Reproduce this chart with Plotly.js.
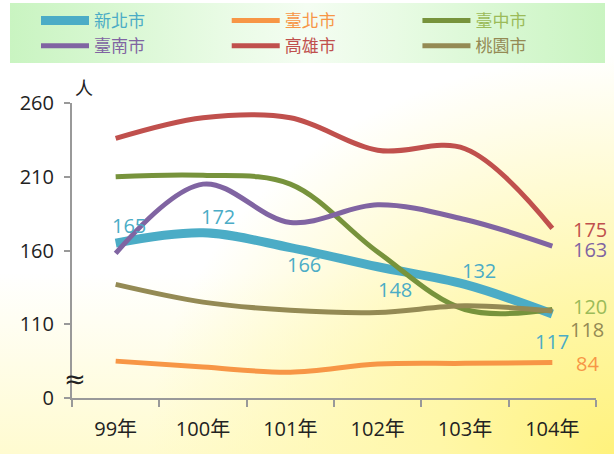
<!DOCTYPE html>
<html><head><meta charset="utf-8">
<script src="https://cdn.plot.ly/plotly-3.0.1.min.js"></script>
<style>
html,body{margin:0;padding:0;}
body{width:614px;height:454px;overflow:hidden;position:relative;
background:
 radial-gradient(ellipse 95% 110% at 100% 100%, #fff27c 0%, #fff7a8 30%, rgba(255,255,255,0) 80%),
 linear-gradient(to bottom, #ffffff 0%, #ffffff 60%, #fffbd0 100%);}
#lg{position:absolute;left:10px;top:3px;width:595px;height:60px;
background:linear-gradient(to right,#c9f4c1 0%,#e8fbe4 35%,#f4fdf2 50%,#e8fbe4 65%,#c9f4c1 100%);}
#chart{position:absolute;left:0;top:-9px;width:614px;height:463px;}
</style></head>
<body><div id="lg"></div><div id="chart"></div>
<script>
var years = ['99年','100年','101年','102年','103年','104年'];
var names = ['新北市','臺北市','臺中市','臺南市','高雄市','桃園市'];
var ntp = [165,172,162,149,137,117];
var tpe = [85,81,77.5,83,83.5,84];
var txg = [210,211,205,159,120,120];
var tnn = [158,205,179,191,181,163];
var khh = [236,250,250,228,229,175];
var tyn = [137,125,119.5,118,122.5,119];
var seriesVals = [ntp,tpe,txg,tnn,khh,tyn];
var lineColors = ['#4bacc6','#f79646','#77933c','#8064a2','#c0504d','#948a54'];
var textColors = ['#4bacc6','#f79646','#9bbb59','#8064a2','#c0504d','#948a54'];
var lineWidths = [9,5,5,5,5,5];
// y axis: broken axis, bottom tick labelled 0
var yTickVals = [60,110,160,210,260];
var yTickText = ['0','110','160','210','260'];
// data labels: text, series index, category index, x shift(px), y value for label
var lblText = ['165','172','166','148','132','117','175','163','120','118','84'];
var lblSeries = [0,0,0,0,0,0,4,3,2,5,1];
var lblCat = [0,1,2,3,4,5,5,5,5,5,5];
var lblDx = [13,15,14,17,14,0,38,38,38,35,35];
var lblY = [177,183,150.4,133.8,146.4,98.5,174.2,160.8,122,106.3,83.3];

var traces = names.map(function(n,i){
  return {x:years, y:seriesVals[i], type:'scatter', mode:'lines',
    name:'<span style="color:'+textColors[i]+'">'+n+'</span>',
    line:{color:lineColors[i], width:lineWidths[i], shape:'spline', smoothing:1},
    hoverinfo:'skip'};
});
var fam = '"Open Sans","Noto Sans CJK TC", sans-serif';
var ann = lblText.map(function(t,k){
  return {x:years[lblCat[k]], y:lblY[k], xref:'x', yref:'y', text:t, showarrow:false,
    xshift:lblDx[k], font:{size:20, color:textColors[lblSeries[k]]}};
});
ann.push({x:0, y:260, xref:'paper', yref:'y', text:'人', showarrow:false, xshift:1, yshift:16,
  font:{size:18,color:'#222', family:'"Noto Sans CJK TC"'}});
ann.push({x:0, y:73, xref:'paper', yref:'y', text:'≈', showarrow:false, xshift:-10,
  font:{size:26,color:'#222', family:'"DejaVu Sans"'}});
var layout = {
  width:614, height:463,
  margin:{l:72, r:18, t:106, b:56},
  paper_bgcolor:'rgba(0,0,0,0)', plot_bgcolor:'rgba(0,0,0,0)',
  font:{family:fam, size:20, color:'#222'},
  showlegend:true,
  legend:{orientation:'h', x:-0.057, xanchor:'left', y:1.339, yanchor:'top',
    entrywidth:0.32, entrywidthmode:'fraction', itemwidth:48,
    bgcolor:'rgba(0,0,0,0)', font:{size:17, family:'"Noto Sans CJK TC"'}, tracegroupgap:0},
  xaxis:{type:'category', range:[-0.5,5.5], showline:true, linecolor:'#999', linewidth:2,
    ticks:'outside', tickson:'boundaries', ticklen:7, tickcolor:'#999', tickwidth:2,
    showgrid:false, zeroline:false, ticklabelstandoff:12, tickfont:{size:20, color:'#222'}, fixedrange:true},
  yaxis:{range:[60,260], tickvals:yTickVals, ticktext:yTickText, showline:true, linecolor:'#999',
    linewidth:2, ticks:'outside', ticklen:6, tickcolor:'#999', tickwidth:2,
    showgrid:false, zeroline:false, ticklabelstandoff:6, tickfont:{size:20, color:'#222'}, fixedrange:true},
  annotations:ann
};
Plotly.newPlot('chart', traces, layout, {displayModeBar:false, staticPlot:true});
</script></body></html>
